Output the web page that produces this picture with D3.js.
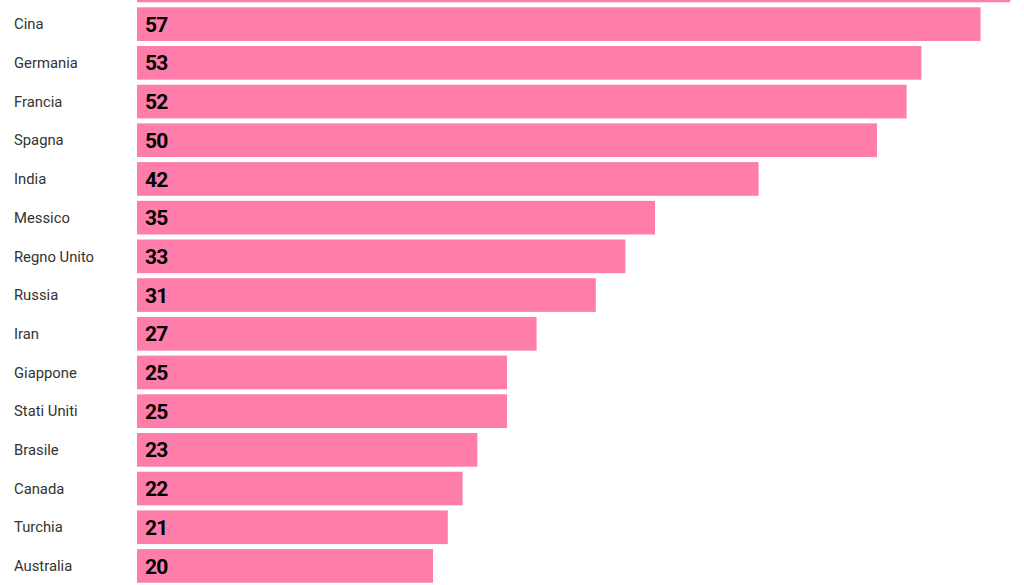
<!DOCTYPE html>
<html>
<head>
<meta charset="utf-8">
<script src="https://cdn.jsdelivr.net/npm/d3@7"></script>
<style>
  html, body { margin: 0; padding: 0; background: #fff; overflow: hidden; }
</style>
</head>
<body>
<div id="chart"></div>
<script>
// Countries and their values (top bar is cut off by the frame)
const countries = ["Italia", "Cina", "Germania", "Francia", "Spagna", "India", "Messico",
  "Regno Unito", "Russia", "Iran", "Giappone", "Stati Uniti", "Brasile", "Canada",
  "Turchia", "Australia"];
const values = [59, 57, 53, 52, 50, 42, 35, 33, 31, 27, 25, 25, 23, 22, 21, 20];

const width = 1024, height = 585;

const svg = d3.select("#chart").append("svg")
  .attr("width", width)
  .attr("height", height);

// x scale: 14.8 px per unit, bars start at 137
const x = d3.scaleLinear()
  .domain([0, 59])
  .range([137, 137 + 59 * 14.8]);

// y band: step ~38.7, first visible bar (Cina) starts at y ~7.3
const step = 38.7;
const y0 = 7.3 - step - 2.5;
const y = d3.scaleBand()
  .domain(countries)
  .range([y0, y0 + countries.length * step])
  .paddingInner(0.13)
  .paddingOuter(0.065);

const rows = svg.selectAll(".row")
  .data(countries.map((c, i) => ({ name: c, value: values[i] })))
  .enter()
  .append("g")
  .attr("class", "row");

// Bars
rows.append("rect")
  .attr("x", x(0))
  .attr("y", d => y(d.name))
  .attr("width", d => x(d.value) - x(0))
  .attr("height", y.bandwidth())
  .attr("fill", "#ff7dab");

// only label rows whose band is inside the frame
const visible = rows.filter(d => y(d.name) >= 0);

// Country labels
visible.append("text")
  .attr("x", 14)
  .attr("y", d => y(d.name) + y.bandwidth() / 2)
  .attr("dy", "0.35em")
  .attr("fill", "#333")
  .attr("font-family", "Roboto, sans-serif")
  .attr("font-size", "14.8px")
  .text(d => d.name);

// Value labels inside bars
visible.append("text")
  .attr("x", x(0) + 8)
  .attr("y", d => y(d.name) + y.bandwidth() / 2)
  .attr("dy", "0.36em")
  .attr("fill", "#000")
  .attr("font-family", "Roboto, sans-serif")
  .attr("font-weight", "700")
  .attr("font-size", "21px")
  .attr("letter-spacing", "-0.8px")
  .text(d => d.value);
</script>
</body>
</html>
